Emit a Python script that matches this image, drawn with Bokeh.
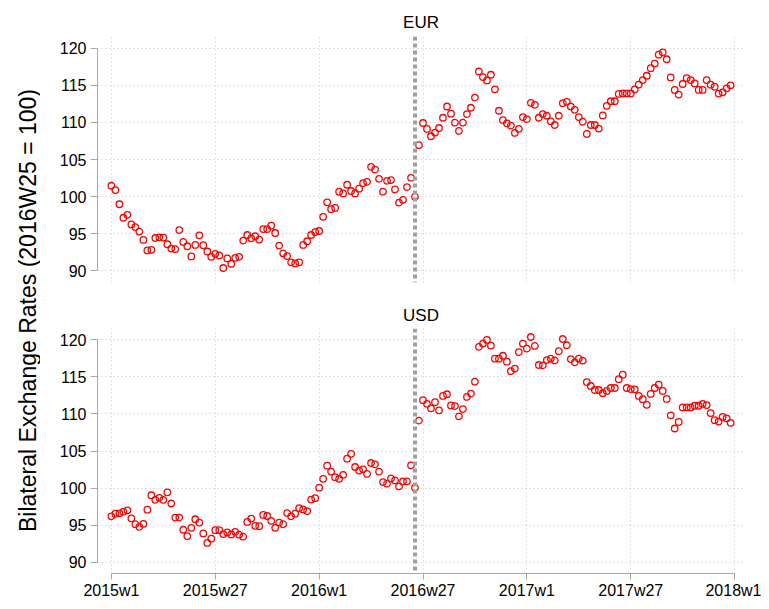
import numpy as np
from bokeh.plotting import figure
from bokeh.layouts import row, column
from bokeh.models import FixedTicker, Span, Label
from bokeh.embed import file_html
from bokeh.resources import INLINE

# ---------------- data ----------------
panel_names = ["EUR", "USD"]

eur = [101.47, 100.89, 98.98, 97.16, 97.56, 96.27, 95.91, 95.29, 94.18, 92.76,
       92.84, 94.44, 94.53, 94.49, 93.6, 93.02, 92.93, 95.51, 93.91, 93.33,
       91.96, 93.51, 94.8, 93.47, 92.62, 91.91, 92.31, 92.09, 90.4, 91.69,
       90.97, 91.75, 91.91, 94.09, 94.84, 94.4, 94.67, 94.22, 95.64, 95.64,
       96.09, 95.11, 93.42, 92.36, 92.0, 91.16, 91.02, 91.16, 93.51, 94.0,
       94.84, 95.24, 95.38, 97.29, 99.24, 98.31, 98.49, 100.67, 100.44, 101.6,
       100.76, 100.44, 101.07, 101.82, 102.0, 104.02, 103.64, 102.4, 100.67, 102.13,
       102.22, 100.98, 99.2, 99.56, 101.29, 102.53, 100.0, 106.93, 109.91, 109.11,
       108.13, 108.62, 109.24, 110.62, 112.13, 111.16, 109.96, 108.84, 109.96, 111.11,
       111.96, 113.33, 116.84, 116.09, 115.64, 116.4, 114.44, 111.56, 110.31, 109.87,
       109.56, 108.58, 109.11, 110.71, 110.44, 112.62, 112.36, 110.62, 111.11, 110.89,
       110.13, 109.64, 110.89, 112.58, 112.76, 112.13, 111.69, 110.71, 110.09, 108.44,
       109.64, 109.64, 109.16, 110.93, 112.22, 112.84, 112.84, 113.82, 113.89, 113.89,
       113.89, 114.44, 115.08, 115.69, 116.27, 117.29, 117.91, 119.11, 119.42, 118.49,
       116.04, 114.36, 113.73, 115.16, 115.96, 115.69, 115.24, 114.36, 114.36, 115.69,
       115.07, 114.8, 113.87, 114.04, 114.58, 114.98]

usd = [96.18, 96.53, 96.58, 96.8, 96.98, 95.91, 95.11, 94.76, 95.16, 97.07,
       99.02, 98.4, 98.67, 98.4, 99.42, 97.91, 96.0, 96.0, 94.36, 93.51,
       94.62, 95.78, 95.33, 93.87, 92.58, 93.16, 94.31, 94.31, 93.78, 94.0,
       93.73, 94.08, 93.69, 93.42, 95.42, 95.87, 94.89, 94.84, 96.36, 96.22,
       95.56, 94.62, 95.33, 95.11, 96.62, 96.18, 96.53, 97.29, 97.11, 96.89,
       98.44, 98.62, 100.04, 101.24, 103.02, 102.22, 101.47, 101.24, 101.78, 103.96,
       104.62, 102.84, 102.36, 102.53, 101.9, 103.38, 103.2, 102.22, 100.8, 100.58,
       101.29, 101.02, 100.22, 100.89, 100.89, 103.07, 100.04, 109.11, 111.87, 111.38,
       110.76, 111.6, 110.49, 112.44, 112.67, 111.16, 111.07, 109.69, 110.67, 112.31,
       112.76, 114.36, 119.07, 119.51, 120.0, 119.24, 117.47, 117.47, 117.87, 117.07,
       115.78, 116.13, 118.36, 119.51, 118.84, 120.4, 119.2, 116.62, 116.58, 117.29,
       117.47, 117.24, 118.49, 120.13, 119.29, 117.42, 116.98, 117.47, 117.2, 114.31,
       113.78, 113.24, 113.24, 112.8, 113.11, 113.51, 113.51, 114.71, 115.31, 113.51,
       113.36, 113.33, 112.44, 112.0, 111.24, 112.71, 113.51, 113.96, 113.11, 112.04,
       109.82, 108.04, 108.93, 110.89, 110.89, 110.89, 111.11, 111.11, 111.38, 111.2,
       110.13, 109.16, 108.98, 109.6, 109.42, 108.8]

weeks = list(range(len(eur)))          # 0 = 2015w1
x_tick_pos = [0, 26, 52, 78, 104, 130, 156]
x_tick_labels = ["2015w1", "2015w27", "2016w1", "2016w27", "2017w1", "2017w27", "2018w1"]
y_ticks = [90, 95, 100, 105, 110, 115, 120]
base_week = 76                          # 2016w25
y_title = "Bilateral Exchange Rates (2016W25 = 100)"

# ---------------- style ----------------
FONT = "Liberation Sans"
GRID = "#c4c4c4"
AXIS = "#a8a8a8"


def make_panel(name, values, height, b_top, b_bottom, standoff, show_x):
    p = figure(width=721, height=height,
               x_range=(-3.48, 158.47), y_range=(88.45, 121.55),
               output_backend="svg", toolbar_location=None,
               x_axis_location="below" if show_x else None,
               min_border_left=57, min_border_right=17,
               min_border_top=b_top, min_border_bottom=b_bottom)
    p.outline_line_color = None
    p.background_fill_color = "white"
    p.border_fill_color = "white"

    p.title.text = name
    p.title.align = "center"
    p.title.text_font = FONT
    p.title.text_font_size = "17px"
    p.title.text_font_style = "normal"
    p.title.text_color = "black"
    p.title.standoff = standoff

    # grids
    p.xgrid.ticker = FixedTicker(ticks=x_tick_pos)
    p.ygrid.ticker = FixedTicker(ticks=y_ticks)
    for g in (p.xgrid, p.ygrid):
        g.grid_line_color = GRID
        g.grid_line_dash = "1 3"
        g.grid_line_width = 1

    # y axis
    ya = p.yaxis[0]
    ya.ticker = FixedTicker(ticks=y_ticks)
    ya.bounds = (90, 120)
    ya.axis_line_color = AXIS
    ya.major_tick_line_color = AXIS
    ya.major_tick_out = 7
    ya.major_tick_in = 0
    ya.minor_tick_line_color = None
    ya.major_label_standoff = 4
    ya.major_label_text_font = FONT
    ya.major_label_text_font_size = "16px"
    ya.major_label_text_color = "black"

    if show_x:
        xa = p.xaxis[0]
        xa.ticker = FixedTicker(ticks=x_tick_pos)
        xa.major_label_overrides = {w: lab for w, lab in zip(x_tick_pos, x_tick_labels)}
        xa.bounds = (x_tick_pos[0], x_tick_pos[-1])
        xa.axis_line_color = AXIS
        xa.major_tick_line_color = AXIS
        xa.major_tick_out = 6
        xa.major_tick_in = 0
        xa.minor_tick_line_color = None
        xa.major_label_standoff = 2
        xa.major_label_text_font = FONT
        xa.major_label_text_font_size = "16px"
        xa.major_label_text_color = "black"

    p.add_layout(Span(location=base_week, dimension="height", line_color="#a0a0a0",
                      line_width=4, line_dash="4 3"))

    p.scatter(x=weeks, y=values, marker="circle", size=6.5, fill_color=None,
              line_color="#ff0000", line_width=1.3)
    return p


top = make_panel(panel_names[0], eur, 290, 36, 8, 9, False)
bottom = make_panel(panel_names[1], usd, 311, 38, 27, 7, True)

# shared y-axis title
t = figure(width=40, height=601, x_range=(0, 40), y_range=(0, 601),
           output_backend="svg", toolbar_location=None, min_border=0,
           x_axis_location=None, y_axis_location=None)
t.grid.visible = False
t.outline_line_color = None
t.add_layout(Label(x=27, y=291, text=y_title, angle=np.pi / 2,
                   text_align="center", text_baseline="middle",
                   text_font=FONT, text_font_size="23px", text_color="black"))

layout = row(t, column(top, bottom))
open("out.html", "w").write(file_html(layout, INLINE))
